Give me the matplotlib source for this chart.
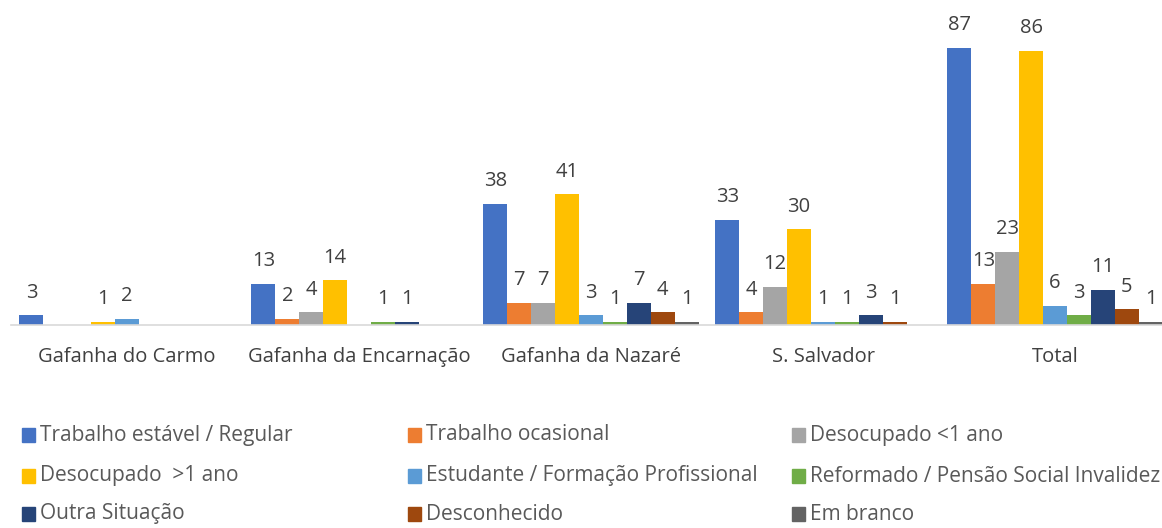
import matplotlib
matplotlib.use("Agg")
import matplotlib.pyplot as plt
from matplotlib.patches import Rectangle
import numpy as np

categories = ["Gafanha do Carmo", "Gafanha da Encarnação", "Gafanha da Nazaré", "S. Salvador", "Total"]
series_names = ["Trabalho estável / Regular", "Trabalho ocasional", "Desocupado <1 ano",
                "Desocupado  >1 ano", "Estudante / Formação Profissional",
                "Reformado / Pensão Social Invalidez", "Outra Situação", "Desconhecido", "Em branco"]
trabalho_estavel = [3, 13, 38, 33, 87]
trabalho_ocasional = [0, 2, 7, 4, 13]
desocupado_menos1 = [0, 4, 7, 12, 23]
desocupado_mais1 = [1, 14, 41, 30, 86]
estudante = [2, 0, 3, 1, 6]
reformado = [0, 1, 1, 1, 3]
outra = [0, 1, 7, 3, 11]
desconhecido = [0, 0, 4, 1, 5]
em_branco = [0, 0, 1, 0, 1]
series = [trabalho_estavel, trabalho_ocasional, desocupado_menos1, desocupado_mais1,
          estudante, reformado, outra, desconhecido, em_branco]
colors = ["#4472C4", "#ED7D31", "#A5A5A5", "#FFC000", "#5B9BD5",
          "#70AD47", "#264478", "#9E480E", "#636363"]

W, H = 1162, 528
fig = plt.figure(figsize=(W / 100, H / 100), dpi=100)
plt.rcParams['font.family'] = ['Open Sans', 'DejaVu Sans']
ax = fig.add_axes([11 / W, 1 - 325 / H, 1160 / W, 325 / H])

n = len(series)
bw = 0.103
x = np.arange(len(categories))
for i, (vals, c) in enumerate(zip(series, colors)):
    pos = x + (i - (n - 1) / 2) * bw
    bars = ax.bar(pos, vals, width=bw, color=c, zorder=2)
    for b, v in zip(bars, vals):
        if v > 0:
            ax.annotate(str(v), (b.get_x() + b.get_width() / 2, v), xytext=(0, 9),
                        textcoords="offset points", ha="center", va="bottom",
                        fontsize=14.5, color="#404040")

ax.set_xlim(-0.5, len(categories) - 0.5)
ax.set_ylim(0, 102)
for s in ["top", "right", "left"]:
    ax.spines[s].set_visible(False)
ax.spines["bottom"].set_color("#D9D9D9")
ax.spines["bottom"].set_linewidth(1.2)
ax.set_yticks([])
ax.set_xticks(x)
ax.set_xticklabels(categories, fontsize=14.5, color="#404040")
ax.tick_params(axis="x", length=0, pad=16)

# legend drawn manually in 3 columns
col_x = [22, 408, 792]
row_y = [435, 476, 514]
for k, (name, c) in enumerate(zip(series_names, colors)):
    cx = col_x[k % 3]
    cy = row_y[k // 3]
    fig.patches.append(Rectangle((cx / W, 1 - (cy + 7) / H), 13 / W, 14 / H,
                                 transform=fig.transFigure, color=c, figure=fig))
    fig.text((cx + 18) / W, 1 - cy / H, name, fontsize=15, color="#595959",
             ha="left", va="center")

fig.savefig("out.png", dpi=100)
